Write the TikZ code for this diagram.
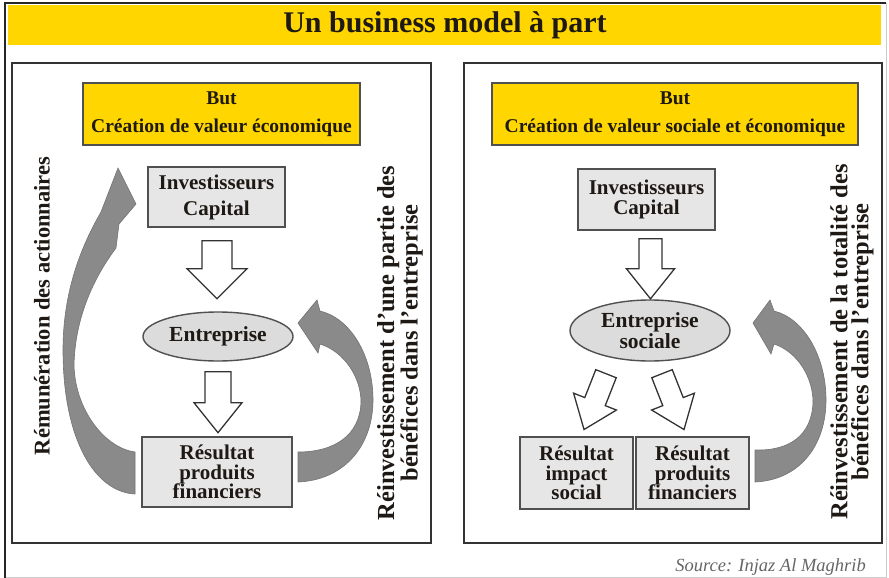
\documentclass[tikz,border=0pt]{standalone}
\usepackage{fontspec}
\setmainfont{Liberation Serif}
\usetikzlibrary{shapes.geometric,calc}
\definecolor{ybg}{RGB}{255,214,0}
\definecolor{boxgray}{RGB}{230,230,230}
\definecolor{elgray}{RGB}{220,220,220}
\definecolor{edge}{RGB}{80,80,80}
\definecolor{bandgray}{RGB}{138,138,138}
\definecolor{txt}{RGB}{30,25,20}
\tikzset{
 goal/.style={draw=edge, line width=1.6pt, fill=ybg, minimum height=62pt, align=center, font=\fontsize{19.5}{28}\selectfont\bfseries, text=txt, inner sep=0pt},
 gbox/.style={draw=edge, line width=1.6pt, fill=boxgray, align=center, text=txt, inner sep=0pt, font=\fontsize{21}{19.5}\selectfont\bfseries},
 oval/.style={ellipse, draw=edge, line width=1.4pt, fill=elgray, inner sep=0pt, align=center, text=txt},
 hollow/.style={draw=black!80, line width=1.3pt, fill=white, line join=miter},
 band/.style={fill=bandgray, draw=black!55, line width=0.6pt, line join=miter},
 vlabel/.style={rotate=90, align=center, text=txt, font=\fontsize{24.5}{21}\selectfont\bfseries, inner sep=0pt},
 panel/.style={draw=black!80, line width=1.6pt}
}
\begin{document}
\begin{tikzpicture}[x=1pt,y=-1pt]
\useasboundingbox (0,0) rectangle (889,578);
% outer frame and title band
\draw[black!20, line width=1pt] (886,3) -- (886,577) -- (5,577);
\fill[ybg] (8,5) rectangle (881,45);
\draw[black!85, line width=2pt] (5,578) -- (5,3) -- (886,3);
\node[font=\fontsize{30}{30}\selectfont\bfseries, text=txt, anchor=base, inner sep=0pt] (title) at (445,33) {Un business model à part};
% panels
\draw[panel] (12,63) rectangle (431,543);
\draw[panel] (464,63) rectangle (882,543);
% ---------- left panel ----------
\node[goal, minimum width=277pt] (goal1) at (221.5,114) {But\\Création de valeur économique};
\node[gbox, minimum width=137pt, minimum height=60pt, font=\fontsize{21}{26}\selectfont\bfseries] (inv1) at (216.5,197) {Investisseurs\\Capital};
\node[oval, minimum width=150pt, minimum height=49pt, font=\fontsize{21.5}{21}\selectfont\bfseries] (ent1) at (218,336.5) {Entreprise};
\node[gbox, minimum width=150pt, minimum height=70pt] (res1) at (217,472) {Résultat\\produits\\financiers};
\begin{scope}[shift={($(inv1.south)+(0.5,13)$)}]
\draw[hollow] (-15,0) -- (15,0) -- (15,28) -- (30,28) -- (0,58) -- (-30,28) -- (-15,28) -- cycle;
\end{scope}
\begin{scope}[shift={($(ent1.south)+(0,10)$)}]
\draw[hollow] (-13,0) -- (13,0) -- (13,31) -- (24,31) -- (0,61) -- (-24,31) -- (-13,31) -- cycle;
\end{scope}
% curved bands
\draw[band] (135,494) .. controls (95,492) and (63,440) .. (63,350) .. controls (63,290) and (82,245) .. (101,212) -- (118,168) -- (136,204) -- (119,224) -- (116,248) .. controls (92,280) and (75,320) .. (74,365) .. controls (75,410) and (105,448) .. (135,452) -- cycle;
\draw[band] (298,482) .. controls (345,480) and (373,445) .. (373,400) .. controls (373,355) and (350,318) .. (320,311) -- (317,300) -- (298,323) -- (318,353) -- (320,344) .. controls (345,352) and (361,378) .. (361,402) .. controls (360,435) and (335,452) .. (298,452) -- cycle;
\node[vlabel, font=\fontsize{22.5}{22}\selectfont\bfseries] (lab1) at (42,306) {Rémunération des actionnaires};
\node[vlabel] (lab2) at (400,343) {Réinvestissement d’une partie des\\bénéfices dans l’entreprise};
% ---------- right panel ----------
\node[goal, minimum width=366pt] (goal2) at (675,114) {But\\Création de valeur sociale et économique};
\node[gbox, minimum width=137pt, minimum height=61pt] (inv2) at (646.5,199.5) {Investisseurs\\Capital};
\node[oval, minimum width=160pt, minimum height=61pt, font=\fontsize{21.5}{21}\selectfont\bfseries] (ent2) at (650,330.5) {Entreprise\\sociale};
\node[gbox, minimum width=113pt, minimum height=72pt] (res2a) at (576.5,473) {Résultat\\impact\\social};
\node[gbox, minimum width=113pt, minimum height=72pt] (res2b) at (692.5,473) {Résultat\\produits\\financiers};
\begin{scope}[shift={($(inv2.south)+(4,8)$)}]
\draw[hollow] (-11.5,0) -- (11.5,0) -- (11.5,30) -- (24,30) -- (0,60) -- (-24,30) -- (-11.5,30) -- cycle;
\end{scope}
\begin{scope}[shift={($(ent2.south)+(-44,12)$)}, rotate=-21.5]
\draw[hollow] (-11,0) -- (11,0) -- (11,30) -- (23,30) -- (0,60) -- (-23,30) -- (-11,30) -- cycle;
\end{scope}
\begin{scope}[shift={($(ent2.south)+(12,12)$)}, rotate=21.5]
\draw[hollow] (-11,0) -- (11,0) -- (11,30) -- (23,30) -- (0,60) -- (-23,30) -- (-11,30) -- cycle;
\end{scope}
\draw[band] (755,482) .. controls (800,480) and (826,445) .. (826,400) .. controls (826,355) and (803,318) .. (774,311) -- (770,300) -- (753,323) -- (771,354) -- (774,344) .. controls (798,352) and (813,378) .. (813,402) .. controls (812,435) and (790,451) .. (755,450) -- cycle;
\node[vlabel] (lab3) at (852,342) {Réinvestissement de la totalité des\\bénéfices dans l’entreprise};
\node[font=\fontsize{18.5}{18}\selectfont\itshape, text=black!60, anchor=base east, inner sep=0pt] (src) at (866,571) {Source: Injaz Al Maghrib};
\end{tikzpicture}
\end{document}
